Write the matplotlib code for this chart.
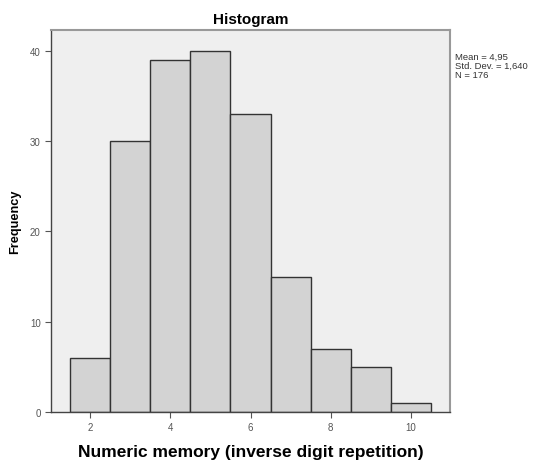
"""Recreate an SPSS-style histogram of numeric memory scores."""

import matplotlib.pyplot as plt
import numpy as np

# Data
scores = [2, 3, 4, 5, 6, 7, 8, 9, 10]
counts = [6, 30, 39, 40, 33, 15, 7, 5, 1]
x_ticks = [2, 4, 6, 8, 10]
y_ticks = [0, 10, 20, 30, 40]
stats_lines = ["Mean = 4,95", "Std. Dev. = 1,640", "N = 176"]


def main() -> None:
    plt.rcParams["font.family"] = ["Liberation Sans", "DejaVu Sans"]

    fig = plt.figure(figsize=(5.39, 4.64), dpi=100)
    ax = fig.add_axes([0.0946, 0.1099, 0.7403, 0.8233])
    ax.set_facecolor("#efefef")

    ax.bar(scores, counts, width=1.0, color="#d3d3d3",
           edgecolor="#333333", linewidth=1.0, zorder=2)

    ax.set_xlim(1.03, 10.97)
    ax.set_ylim(0, 42.3)
    ax.set_xticks(x_ticks)
    ax.set_yticks(y_ticks)
    ax.tick_params(axis="both", labelsize=7, colors="#555555",
                   length=4, width=0.8, direction="out")

    for side in ["left", "bottom"]:
        ax.spines[side].set_color("#444444")
        ax.spines[side].set_linewidth(1.0)
    for side in ["top", "right"]:
        ax.spines[side].set_color("#999999")
        ax.spines[side].set_linewidth(1.5)

    ax.set_title("Histogram", fontsize=11, fontweight="bold", pad=5)
    ax.set_xlabel("Numeric memory (inverse digit repetition)",
                  fontsize=12.5, fontweight="bold", labelpad=8)
    ax.set_ylabel("Frequency", fontsize=9.2, fontweight="bold", labelpad=6)

    fig.text(455 / 539, 1 - 53 / 464, "\n".join(stats_lines),
             fontsize=6.8, color="#333333", va="top", ha="left",
             linespacing=1.0)

    fig.savefig("out.png", dpi=100)


if __name__ == "__main__":
    main()
